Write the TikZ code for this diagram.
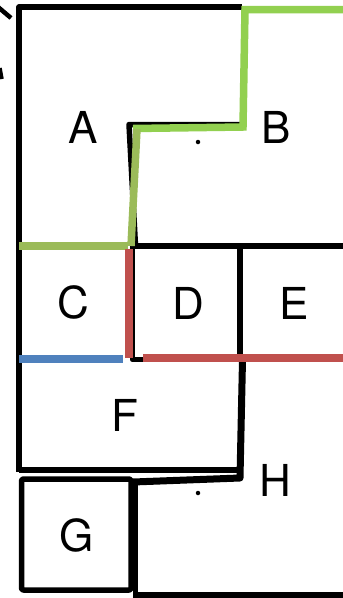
\documentclass[tikz,border=0pt]{standalone}
\usepackage{fontspec}
\setmainfont{TeX Gyre Heros}
\usepackage{tikz}
\definecolor{lime}{HTML}{92D050}
\definecolor{olive}{HTML}{9BBB59}
\definecolor{brick}{HTML}{C0504D}
\definecolor{steel}{HTML}{4F81BD}
\tikzset{
  wall/.style={line width=5.5pt,draw=black,line join=round},
  border/.style={line width=7.5pt},
  room/.style={font=\fontsize{44}{44}\selectfont,inner sep=0pt},
  spot/.style={circle,fill=black,inner sep=0pt,minimum size=4.5pt}
}

\begin{document}
\begin{tikzpicture}[x=1pt,y=-1pt]
\useasboundingbox (0,0) rectangle (343,598);
% cut-off marks at the left edge
\draw[line width=4.5pt] (-2,7) -- (11,18);
\draw[line width=3.5pt] (0,68) -- (2,79);
% walls
\draw[wall] (242,7) -- (19,7) -- (19,472);
\draw[wall] (19,470) -- (238,470);
\draw[wall] (242,124.5) -- (129,124.5) -- (135.5,246);
\draw[wall] (135,246) -- (343,246);
\draw[wall] (132.5,246) -- (132.5,359.5) -- (143,359.5);
\draw[wall] (240,246) -- (240,362);
\draw[wall,line width=7pt] (242.5,360) -- (240,478) -- (133,482);
\draw[wall,rounded corners=2pt] (21.5,479) rectangle (131,590);
\draw[wall] (135.5,482) -- (135.5,598);
\draw[wall] (135.5,595) -- (343,595);
% coloured borders
\draw[border,lime] (343,9.5) -- (245,9.5) -- (243,127) -- (133,128.5);
\draw[border,olive] (137,129) -- (131,246);
\draw[border,olive] (19,246) -- (128,246);
\draw[border,brick] (129,249) -- (129,358);
\draw[border,brick] (143,358) -- (343,358);
\draw[border,steel] (19,359) -- (123,359);
% dots
\node[spot] (p1) at (198,142) {};
\node[spot] (p2) at (198,493) {};
% rooms
\node[room] (A) at (83.5,127.5) {A};
\node[room] (B) at (276,127.5) {B};
\node[room] (C) at (73.5,302.5) {C};
\node[room] (D) at (188,303) {D};
\node[room] (E) at (294,303.5) {E};
\node[room] (F) at (125,415) {F};
\node[room] (G) at (76.5,535) {G};
\node[room] (H) at (275,480) {H};
\end{tikzpicture}
\end{document}
